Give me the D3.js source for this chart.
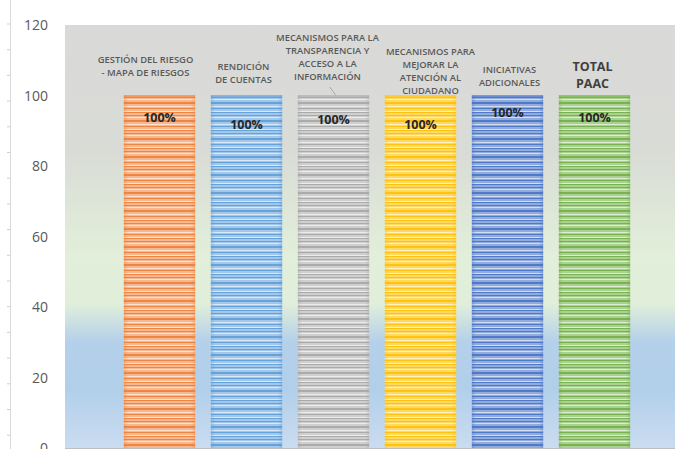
<!DOCTYPE html>
<html>
<head>
<meta charset="utf-8">
<script src="https://cdn.jsdelivr.net/npm/d3@7"></script>
<style>
  body { margin: 0; background: #fff; }
  svg { display: block; font-family: "Open Sans", "Lato", sans-serif; }
</style>
</head>
<body>
<svg id="chart" width="676" height="449"></svg>
<script>
/* Chart values */
const categories = [
    ['GESTIÓN DEL RIESGO', '- MAPA DE RIESGOS'],
    ['RENDICIÓN', 'DE CUENTAS'],
    ['MECANISMOS PARA LA', 'TRANSPARENCIA Y', 'ACCESO A LA', 'INFORMACIÓN'],
    ['MECANISMOS PARA', 'MEJORAR LA', 'ATENCIÓN AL', 'CIUDADANO'],
    ['INICIATIVAS', 'ADICIONALES'],
    ['TOTAL', 'PAAC']
];
const values = [100, 100, 100, 100, 100, 100];
const valueLabels = ['100%', '100%', '100%', '100%', '100%', '100%'];
const yTicks = [0, 20, 40, 60, 80, 100, 120];

/* Styling for each bar: light fill + darker stripe colour */
const barFill = ['#f5b891', '#a3c7ea', '#cfcfcf', '#ffd966', '#91abdc', '#abd191'];
const barLine = ['#ed7d31', '#5b9bd5', '#a5a5a5', '#ffc000', '#4472c4', '#70ad47'];

/* Hand placed label offsets, like in the original sheet */
const valueDy = [22, 29, 24, 29, 17, 22];
const catDx = [-14, -3, -6, 10, 2, -2];
const catBottom = [73, 80, 77, 91, 83, 85];

const svg = d3.select('#chart');
const defs = svg.append('defs');

const x = d3.scaleBand()
    .domain(d3.range(categories.length))
    .range([116, 638])
    .paddingInner(0.18)
    .paddingOuter(0.09);

const y = d3.scaleLinear().domain([0, 120]).range([448, 25]);

/* plot area background */
let bg = defs.append('linearGradient')
    .attr('id', 'bg').attr('x1', 0).attr('y1', 0).attr('x2', 0).attr('y2', 1);
[[0, '#d9d9d9'], [0.3, '#d9dcd6'], [0.55, '#e2efda'], [0.66, '#e0eedb'],
 [0.75, '#b4d0ea'], [0.86, '#b2cfea'], [1, '#cadcf0']].forEach(s =>
    bg.append('stop').attr('offset', s[0]).attr('stop-color', s[1]));

svg.append('rect')
    .attr('x', 65).attr('y', y(120))
    .attr('width', 610).attr('height', y(0) - y(120))
    .attr('fill', 'url(#bg)');

/* left ruler */
svg.append('line')
    .attr('x1', 10.5).attr('x2', 10.5).attr('y1', 0).attr('y2', 449)
    .attr('stroke', '#d9d9d9');
d3.range(24, 449, 25.7).forEach(ty =>
    svg.append('line')
        .attr('x1', 7).attr('x2', 10).attr('y1', ty).attr('y2', ty)
        .attr('stroke', '#cfcfcf'));

/* y tick labels */
svg.append('g').selectAll('text')
    .data(yTicks)
    .join('text')
    .attr('x', 48)
    .attr('y', d => y(d) + 5)
    .attr('text-anchor', 'end')
    .attr('font-size', 14)
    .attr('fill', '#595959')
    .text(d => d);

/* stripe patterns */
const stripeRows = [0, 3, 4, 7, 9, 12, 13, 16];
barFill.forEach((c, i) => {
    let p = defs.append('pattern')
        .attr('id', 'stripe' + i)
        .attr('patternUnits', 'userSpaceOnUse')
        .attr('width', 10).attr('height', 18);
    p.append('rect').attr('width', 10).attr('height', 18).attr('fill', c);
    stripeRows.forEach((r, k) =>
        p.append('rect')
            .attr('y', r).attr('width', 10).attr('height', 1)
            .attr('fill', k % 3 == 1 ? '#ffffff' : barLine[i])
            .attr('opacity', k % 3 == 1 ? 0.6 : 0.85));
    let g = defs.append('linearGradient').attr('id', 'edge' + i);
    [[0, 0.35], [0.06, 0], [0.94, 0], [1, 0.35]].forEach(s =>
        g.append('stop').attr('offset', s[0])
            .attr('stop-color', barLine[i]).attr('stop-opacity', s[1]));
});

/* bars */
const bars = svg.append('g');
bars.selectAll('rect.bar')
    .data(values)
    .join('rect')
    .attr('class', 'bar')
    .attr('x', (d, i) => x(i))
    .attr('y', d => y(d))
    .attr('width', x.bandwidth())
    .attr('height', d => y(0) - y(d))
    .attr('fill', (d, i) => 'url(#stripe' + i + ')');
bars.selectAll('rect.edge')
    .data(values)
    .join('rect')
    .attr('class', 'edge')
    .attr('x', (d, i) => x(i))
    .attr('y', d => y(d))
    .attr('width', x.bandwidth())
    .attr('height', d => y(0) - y(d))
    .attr('fill', (d, i) => 'url(#edge' + i + ')');
bars.selectAll('line.top')
    .data(values)
    .join('line')
    .attr('class', 'top')
    .attr('x1', (d, i) => x(i)).attr('x2', (d, i) => x(i) + x.bandwidth())
    .attr('y1', d => y(d) + 0.5).attr('y2', d => y(d) + 0.5)
    .attr('stroke', (d, i) => barLine[i]);

/* x axis line */
svg.append('line')
    .attr('x1', 65).attr('x2', 675).attr('y1', 448.5).attr('y2', 448.5)
    .attr('stroke', '#bfbfbf');

/* value labels */
svg.append('g').selectAll('text')
    .data(values)
    .join('text')
    .attr('x', (d, i) => x(i) + x.bandwidth() / 2)
    .attr('y', (d, i) => y(d) + valueDy[i] + 4)
    .attr('text-anchor', 'middle')
    .attr('font-size', 12.5)
    .attr('font-weight', 'bold')
    .attr('fill', '#262626')
    .text((d, i) => valueLabels[i]);

/* category labels */
categories.forEach((lines, i) => {
    let isTotal = i == categories.length - 1;
    let lh = isTotal ? 17 : 13;
    let t = svg.append('text')
        .attr('text-anchor', 'middle')
        .attr('font-size', isTotal ? 12.5 : 9.4)
        .attr('font-weight', isTotal ? 'bold' : 600)
        .attr('fill', isTotal ? '#404040' : '#595959');
    lines.forEach((line, k) =>
        t.append('tspan')
            .attr('x', x(i) + x.bandwidth() / 2 + catDx[i])
            .attr('y', catBottom[i] - (lines.length - 1 - k) * lh + 3)
            .text(line));
});

/* leader line of the third label */
svg.append('line')
    .attr('x1', x(2) + 32).attr('y1', 87)
    .attr('x2', x(2) + 38).attr('y2', y(values[2]))
    .attr('stroke', '#a6a6a6');
</script>
</body>
</html>
